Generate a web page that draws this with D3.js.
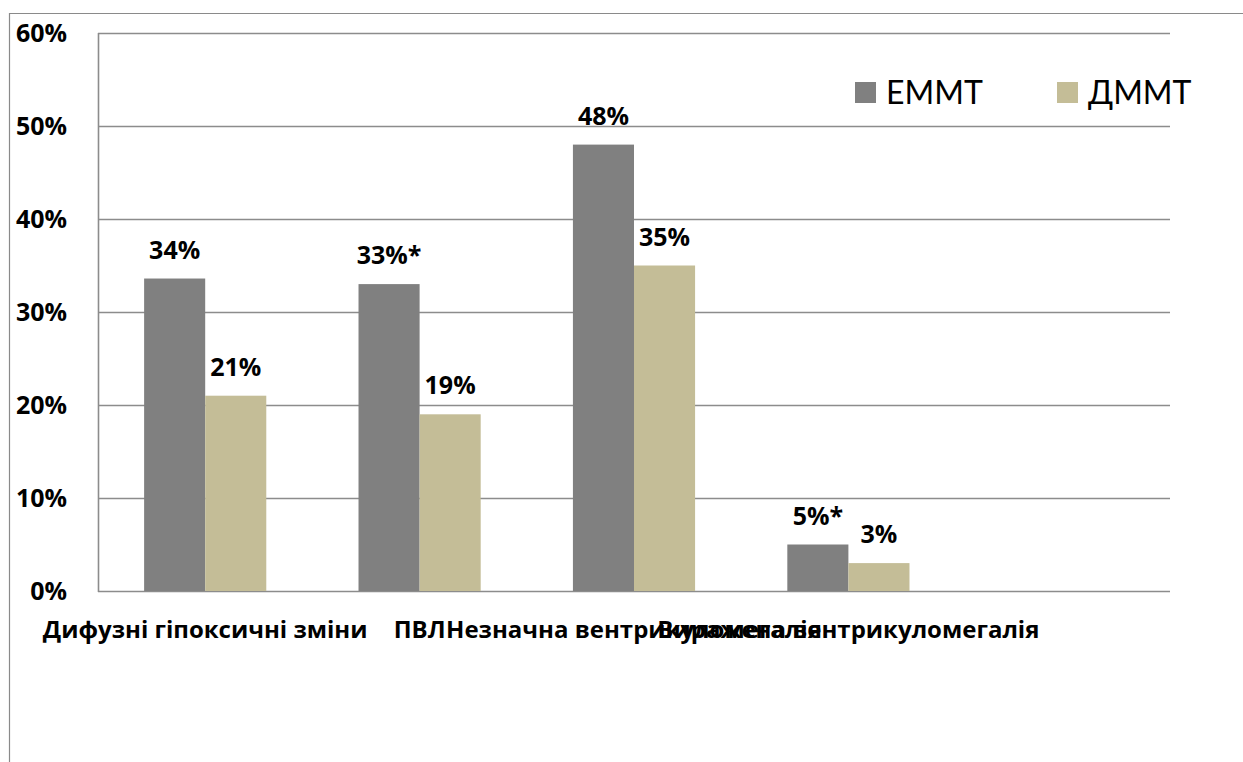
<!DOCTYPE html>
<html>
<head>
<meta charset="utf-8">
<script src="https://cdn.jsdelivr.net/npm/d3@7"></script>
<style>
  html, body { margin: 0; padding: 0; background: #fff; }
  svg text { font-family: "Open Sans", Lato, sans-serif; fill: #000; }
  svg text.legend { font-family: Lato, "Open Sans", sans-serif; }
</style>
</head>
<body>
<svg id="chart" width="1243" height="762"></svg>
<script>
const categories = ["Дифузні гіпоксичні зміни", "ПВЛ", "Незначна вентрикуломегалія", "Виражена вентрикуломегалія", ""];
const seriesNames = ["ЕММТ", "ДММТ"];
const emmtValues = [0.336, 0.33, 0.48, 0.05, null];
const dmmtValues = [0.21, 0.19, 0.35, 0.03, null];
const emmtLabels = ["34%", "33%*", "48%", "5%*", ""];
const dmmtLabels = ["21%", "19%", "35%", "3%", ""];
const yTicks = [0, 0.1, 0.2, 0.3, 0.4, 0.5, 0.6];
const colors = ["#808080", "#C4BD97"];

const svg = d3.select("#chart");
const W = 1243, H = 762;
const plot = { left: 98, right: 1170, top: 33, bottom: 591 };

// outer frame
svg.append("line").attr("x1", 9).attr("x2", W).attr("y1", 13.5).attr("y2", 13.5)
  .attr("stroke", "#8a8a8a").attr("stroke-width", 1.2);
svg.append("line").attr("x1", 9.5).attr("x2", 9.5).attr("y1", 13).attr("y2", H)
  .attr("stroke", "#8a8a8a").attr("stroke-width", 1.2);

const x = d3.scaleBand().domain(d3.range(categories.length)).range([plot.left, plot.right]).paddingInner(0).paddingOuter(0);
const xs = d3.scaleBand().domain(seriesNames).range([0, x.step()]).paddingInner(0).paddingOuter(0.755);
const y = d3.scaleLinear().domain([0, 0.6]).range([plot.bottom, plot.top]);

// gridlines
svg.append("g").selectAll("line").data(yTicks).join("line")
  .attr("x1", plot.left).attr("x2", plot.right)
  .attr("y1", d => Math.round(y(d)) + 0.5).attr("y2", d => Math.round(y(d)) + 0.5)
  .attr("stroke", "#8c8c8c").attr("stroke-width", 1.6);
// left axis line
svg.append("line").attr("x1", plot.left + 0.5).attr("x2", plot.left + 0.5)
  .attr("y1", plot.top).attr("y2", plot.bottom + 1)
  .attr("stroke", "#8c8c8c").attr("stroke-width", 1.6);

// y tick labels
svg.append("g").selectAll("text").data(yTicks).join("text")
  .attr("x", 67).attr("y", d => y(d) + 9)
  .attr("text-anchor", "end")
  .attr("font-size", 25).attr("font-weight", "bold")
  .text(d => d3.format(".0%")(d));

// bars
const data = [emmtValues, dmmtValues];
const labels = [emmtLabels, dmmtLabels];
seriesNames.forEach((s, si) => {
  const g = svg.append("g");
  const rows = categories.map((c, i) => ({ i, v: data[si][i], lab: labels[si][i] })).filter(d => d.v != null);
  g.selectAll("rect").data(rows).join("rect")
    .attr("x", d => x(d.i) + xs(s))
    .attr("width", xs.bandwidth())
    .attr("y", d => y(d.v))
    .attr("height", d => y(0) - y(d.v))
    .attr("fill", colors[si]);
  g.selectAll("text").data(rows).join("text")
    .attr("x", d => x(d.i) + xs(s) + xs.bandwidth() / 2)
    .attr("y", d => y(d.v) - 20)
    .attr("text-anchor", "middle")
    .attr("font-size", 25).attr("font-weight", "bold")
    .text(d => d.lab);
});

// category labels
svg.append("g").selectAll("text").data(categories).join("text")
  .attr("x", (d, i) => x(i) + x.bandwidth() / 2)
  .attr("y", 638)
  .attr("text-anchor", "middle")
  .attr("font-size", 24).attr("font-weight", "bold")
  .text(d => d);

// legend
const legendX = [855, 1057];
seriesNames.forEach((s, i) => {
  svg.append("rect").attr("x", legendX[i]).attr("y", 82).attr("width", 21).attr("height", 21).attr("fill", colors[i]);
  svg.append("text").attr("class", "legend").attr("x", legendX[i] + 31).attr("y", 104)
    .attr("font-size", 32).text(s);
});
</script>
</body>
</html>
